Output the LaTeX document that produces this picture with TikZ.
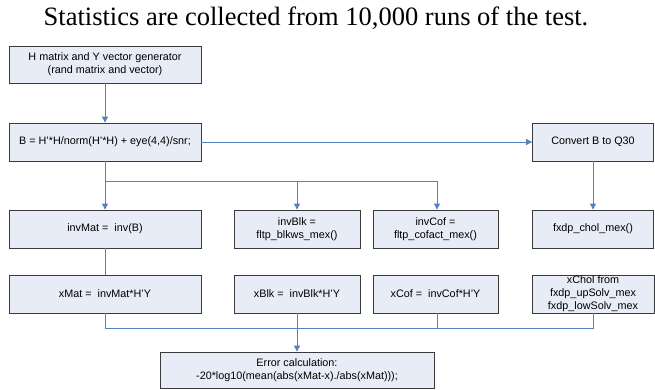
\documentclass[tikz,border=0pt]{standalone}
\usepackage{fontspec}
\setmainfont{Liberation Sans}
\newfontfamily\titlefont{Liberation Serif}
\usetikzlibrary{arrows.meta}
\definecolor{boxfill}{HTML}{E7ECF6}
\definecolor{boxline}{HTML}{3A3A3A}
\definecolor{conn}{HTML}{5681C0}
\begin{document}
\begin{tikzpicture}[x=1pt,y=-1pt,
  box/.style={draw=boxline,line width=0.8pt,fill=boxfill,inner sep=1pt,
    align=center,font=\fontsize{10.8}{12.8}\selectfont},
  wbox/.style={box,minimum width=192pt,minimum height=38pt},
  mbox/.style={box,minimum width=126pt,minimum height=38pt},
  rbox/.style={box,minimum width=121pt,minimum height=38pt},
  link/.style={draw=conn,line width=0.9pt},
  arr/.style={link,-{Triangle[length=6pt,width=6pt]}}]
\useasboundingbox (0,0) rectangle (655,390);
\node[font=\titlefont\fontsize{26.5}{28}\selectfont] (title) at (316,18) {Statistics are collected from 10,000 runs of the test.};
\node[box,minimum width=192pt,minimum height=37pt] (H) at (105,64.5) {H matrix and Y vector generator\\(rand matrix and vector)};
\node[wbox] (B) at (105,142) {B = H'*H/norm(H'*H) + eye(4,4)/snr;};
\node[rbox] (conv) at (593,142) {Convert B to Q30};
\node[wbox] (invMat) at (105,229) {invMat =\ \ inv(B)};
\node[mbox] (invBlk) at (297,229) {invBlk =\\fltp\_blkws\_mex()};
\node[mbox,minimum width=125pt] (invCof) at (435.5,229) {invCof =\\fltp\_cofact\_mex()};
\node[rbox] (chol) at (593,229) {fxdp\_chol\_mex()};
\node[wbox] (xMat) at (105,294) {xMat =\ \ invMat*H'Y};
\node[mbox] (xBlk) at (297,294) {xBlk =\ \ invBlk*H'Y};
\node[mbox,minimum width=125pt] (xCof) at (435.5,294) {xCof =\ \ invCof*H'Y};
\node[rbox,minimum width=122pt] (xChol) at (593,294) {xChol from\\fxdp\_upSolv\_mex\\fxdp\_lowSolv\_mex};
\node[box,minimum width=274pt,minimum height=36pt] (err) at (297,370) {Error calculation:\\-20*log10(mean(abs(xMat-x)./abs(xMat)));};
\coordinate (br) at (105,181);
\coordinate (join) at (297,328);
\draw[arr] (H) -- (B);
\draw[arr] (B) -- (conv);
\draw[arr] (conv) -- (chol);
\draw[arr] (B) -- (invMat);
\draw[arr] (br) -| (invBlk.north);
\draw[arr] (br) -| ([xshift=1.5pt]invCof.north);
\draw[link] (invMat) -- (xMat);
\draw[link] (xMat.south) |- (join);
\draw[link] ([xshift=1.5pt]xCof.south) |- (join);
\draw[link] (xChol.south) |- (join);
\draw[arr] (xBlk) -- (err);
\end{tikzpicture}
\end{document}
